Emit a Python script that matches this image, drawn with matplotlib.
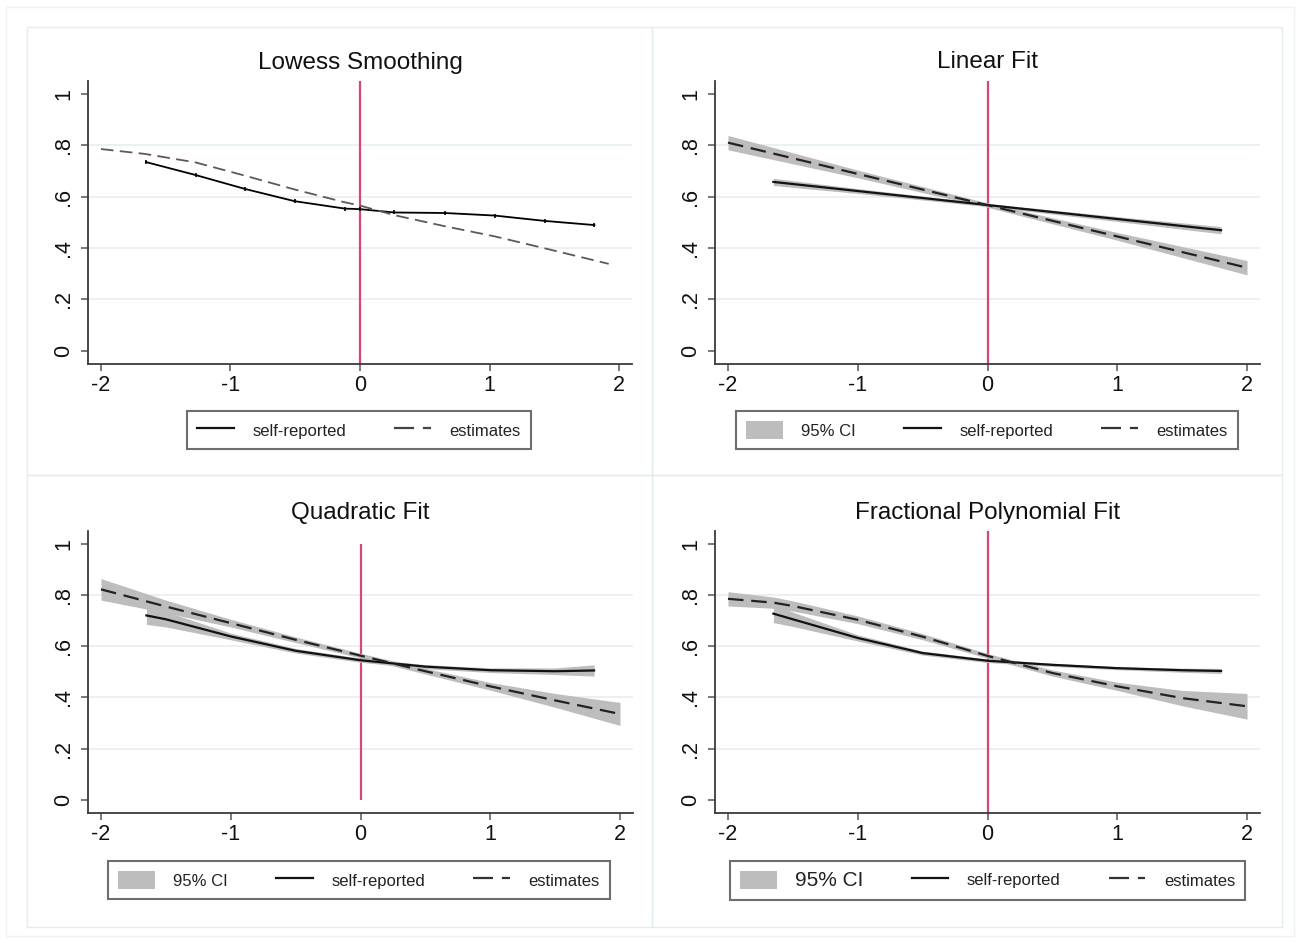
import matplotlib
matplotlib.use("Agg")
import matplotlib.pyplot as plt
from matplotlib.patches import Rectangle, Patch
from matplotlib.lines import Line2D

plt.rcParams['font.family'] = ['Liberation Sans', 'DejaVu Sans']

W, H = 1301, 943

# ---------------- data ----------------
titles = ["Lowess Smoothing", "Linear Fit", "Quadratic Fit", "Fractional Polynomial Fit"]
x_ticks = [-2, -1, 0, 1, 2]
x_ticklabels = ["-2", "-1", "0", "1", "2"]
y_ticks = [0, 0.2, 0.4, 0.6, 0.8, 1.0]
y_ticklabels = ["0", ".2", ".4", ".6", ".8", "1"]
grid_vals = [0.2, 0.4, 0.6, 0.8]

# Lowess smoothing
low_self_x = [-1.65, -1.27, -0.89, -0.505, -0.115, 0.0, 0.265, 0.655, 1.04, 1.43, 1.81]
low_self_y = [0.734, 0.684, 0.630, 0.582, 0.553, 0.551, 0.538, 0.536, 0.526, 0.505, 0.489]
low_est_x = [-2.0, -1.66, -1.27, -0.9, -0.5, -0.12, 0.0, 0.27, 0.65, 1.04, 1.43, 1.92]
low_est_y = [0.785, 0.766, 0.733, 0.683, 0.627, 0.578, 0.565, 0.527, 0.485, 0.445, 0.398, 0.338]

# Linear fit
lin_self_x = [-1.65, 1.80]
lin_self_y = [0.657, 0.469]
lin_self_ci_x = [-1.65, -1.0, 0.0, 1.0, 1.80]
lin_self_lo = [0.643, 0.612, 0.561, 0.503, 0.455]
lin_self_hi = [0.671, 0.631, 0.573, 0.522, 0.483]
lin_est_x = [-2.0, 2.0]
lin_est_y = [0.810, 0.323]
lin_est_ci_x = [-2.0, -1.0, 0.0, 1.0, 2.0]
lin_est_lo = [0.782, 0.673, 0.558, 0.430, 0.295]
lin_est_hi = [0.838, 0.703, 0.575, 0.460, 0.351]

# Quadratic fit
quad_est_x = [-2.0, -1.5, -1.0, -0.5, 0.0, 0.5, 1.0, 1.5, 2.0]
quad_est_y = [0.822, 0.755, 0.690, 0.625, 0.563, 0.502, 0.443, 0.388, 0.335]
quad_est_lo = [0.780, 0.730, 0.675, 0.614, 0.554, 0.491, 0.428, 0.361, 0.290]
quad_est_hi = [0.864, 0.780, 0.705, 0.636, 0.572, 0.513, 0.458, 0.415, 0.380]
quad_self_x = [-1.65, -1.5, -1.0, -0.5, 0.0, 0.5, 1.0, 1.5, 1.8]
quad_self_y = [0.720, 0.705, 0.638, 0.582, 0.545, 0.520, 0.506, 0.502, 0.505]
quad_self_lo = [0.685, 0.675, 0.625, 0.573, 0.537, 0.512, 0.497, 0.489, 0.483]
quad_self_hi = [0.755, 0.735, 0.651, 0.591, 0.553, 0.528, 0.515, 0.515, 0.527]

# Fractional polynomial fit
fp_est_x = [-2.0, -1.65, -1.5, -1.0, -0.5, 0.0, 0.5, 1.0, 1.5, 2.0]
fp_est_y = [0.785, 0.770, 0.757, 0.703, 0.637, 0.562, 0.495, 0.443, 0.397, 0.365]
fp_est_lo = [0.757, 0.748, 0.737, 0.688, 0.625, 0.553, 0.483, 0.427, 0.367, 0.315]
fp_est_hi = [0.813, 0.792, 0.777, 0.718, 0.649, 0.571, 0.507, 0.459, 0.427, 0.415]
fp_self_x = [-1.65, -1.5, -1.0, -0.5, 0.0, 0.5, 1.0, 1.5, 1.8]
fp_self_y = [0.727, 0.705, 0.632, 0.573, 0.543, 0.527, 0.514, 0.506, 0.503]
fp_self_lo = [0.692, 0.677, 0.620, 0.565, 0.536, 0.521, 0.508, 0.498, 0.493]
fp_self_hi = [0.762, 0.733, 0.644, 0.581, 0.550, 0.533, 0.520, 0.514, 0.513]

legend_labels_ci = ["95% CI", "self-reported", "estimates"]
legend_labels_low = ["self-reported", "estimates"]

# ---------------- styling ----------------
RED = "#d9476f"
GRID = "#e6eff1"
CI = "#bdbdbd"
FRAME = "#e3ecee"
DASH = (0, (7, 3.5))

fig = plt.figure(figsize=(W / 100, H / 100), dpi=100)
fig.patch.set_facecolor("white")


def px_rect(x0, y0, x1, y1, **kw):
    r = Rectangle((x0 / W, 1 - y1 / H), (x1 - x0) / W, (y1 - y0) / H,
                  transform=fig.transFigure, fill=False, **kw)
    fig.patches.append(r)


px_rect(6, 7, 1294, 936, edgecolor="#edf2f3", lw=1.0)
px_rect(27, 27, 652, 475, edgecolor=FRAME, lw=1.0)
px_rect(652, 27, 1282, 475, edgecolor=FRAME, lw=1.0)
px_rect(27, 475, 652, 927, edgecolor=FRAME, lw=1.0)
px_rect(652, 475, 1282, 927, edgecolor=FRAME, lw=1.0)


def make_ax(left, right, top, bottom):
    ax = fig.add_axes([left / W, 1 - bottom / H, (right - left) / W, (bottom - top) / H])
    ax.set_xlim(-2.1, 2.1)
    ax.set_ylim(-0.052, 1.05)
    for s in ("top", "right"):
        ax.spines[s].set_visible(False)
    for s in ("left", "bottom"):
        ax.spines[s].set_color("#3a3a3a")
        ax.spines[s].set_linewidth(1.3)
    ax.set_xticks(x_ticks)
    ax.set_xticklabels(x_ticklabels)
    ax.set_yticks(y_ticks)
    ax.set_yticklabels(y_ticklabels, rotation=90, va="center")
    ax.tick_params(axis="both", direction="out", length=5, width=1.1,
                   color="#555555", labelsize=15.5, labelcolor="#111111")
    ax.tick_params(axis="x", pad=3)
    ax.tick_params(axis="y", pad=5)
    for v in grid_vals:
        ax.axhline(v, color=GRID, lw=1.2, zorder=0)
    return ax


axes = [
    make_ax(88, 632, 81, 364),
    make_ax(715, 1260, 81, 364),
    make_ax(88, 633, 531, 813),
    make_ax(715, 1260, 531, 813),
]

for ax, t in zip(axes, titles):
    ax.set_title(t, fontsize=17.5, pad=9, color="#111111")

# Panel 1: Lowess
ax = axes[0]
ax.axvline(0, color=RED, lw=1.6, zorder=1)
ax.plot(low_self_x, low_self_y, color="black", lw=1.3, marker="|", ms=2.5, mew=1.2, zorder=3)
ax.plot(low_est_x, low_est_y, color="#5a5a5a", lw=1.3, linestyle=DASH, zorder=3)

# Panel 2: Linear
ax = axes[1]
ax.fill_between(lin_est_ci_x, lin_est_lo, lin_est_hi, color=CI, lw=0, zorder=2)
ax.fill_between(lin_self_ci_x, lin_self_lo, lin_self_hi, color=CI, lw=0, zorder=2)
ax.axvline(0, color=RED, lw=1.6, zorder=1)
ax.plot(lin_self_x, lin_self_y, color="#111111", lw=1.6, zorder=3)
ax.plot(lin_est_x, lin_est_y, color="#222222", lw=1.6, linestyle=DASH, zorder=3)

# Panel 3: Quadratic
ax = axes[2]
ax.fill_between(quad_est_x, quad_est_lo, quad_est_hi, color=CI, lw=0, zorder=2)
ax.fill_between(quad_self_x, quad_self_lo, quad_self_hi, color=CI, lw=0, zorder=2)
ax.vlines(0, 0, 1, color=RED, lw=1.6, zorder=1)
ax.plot(quad_self_x, quad_self_y, color="#111111", lw=1.6, zorder=3)
ax.plot(quad_est_x, quad_est_y, color="#222222", lw=1.6, linestyle=DASH, zorder=3)

# Panel 4: Fractional polynomial
ax = axes[3]
ax.fill_between(fp_est_x, fp_est_lo, fp_est_hi, color=CI, lw=0, zorder=2)
ax.fill_between(fp_self_x, fp_self_lo, fp_self_hi, color=CI, lw=0, zorder=2)
ax.axvline(0, color=RED, lw=1.6, zorder=1)
ax.plot(fp_self_x, fp_self_y, color="#111111", lw=1.6, zorder=3)
ax.plot(fp_est_x, fp_est_y, color="#222222", lw=1.6, linestyle=DASH, zorder=3)


# ---------------- legends ----------------
def add_legend(handles, labels, cx, cy, colsp, big_first=False):
    leg = fig.legend(handles, labels, loc="center",
                     bbox_to_anchor=(cx / W, 1 - cy / H),
                     ncol=len(handles), fontsize=12, frameon=True, fancybox=False,
                     handlelength=2.2, handleheight=1.3, handletextpad=1.1,
                     columnspacing=colsp, borderpad=0.6, borderaxespad=0)
    fr = leg.get_frame()
    fr.set_edgecolor("#4a4a4a")
    fr.set_linewidth(1.5)
    for tx in leg.get_texts():
        tx.set_color("#222222")
    if big_first:
        leg.get_texts()[0].set_fontsize(15)
    return leg


h_self = Line2D([], [], color="#111111", lw=1.6)
h_est = Line2D([], [], color="#333333", lw=1.6, linestyle=(0, (9, 4)))
h_est_low = Line2D([], [], color="#444444", lw=1.6, linestyle=(0, (9, 4)))
h_ci = Patch(facecolor=CI, edgecolor="none")

add_legend([h_self, h_est_low], legend_labels_low, 359, 430, 2.9)
add_legend([h_ci, h_self, h_est], legend_labels_ci, 987, 430, 2.9)
add_legend([h_ci, h_self, h_est], legend_labels_ci, 359, 880, 2.9)
add_legend([h_ci, h_self, h_est], legend_labels_ci, 987.5, 880, 2.9, big_first=True)

fig.savefig("out.png", dpi=100, facecolor="white")
